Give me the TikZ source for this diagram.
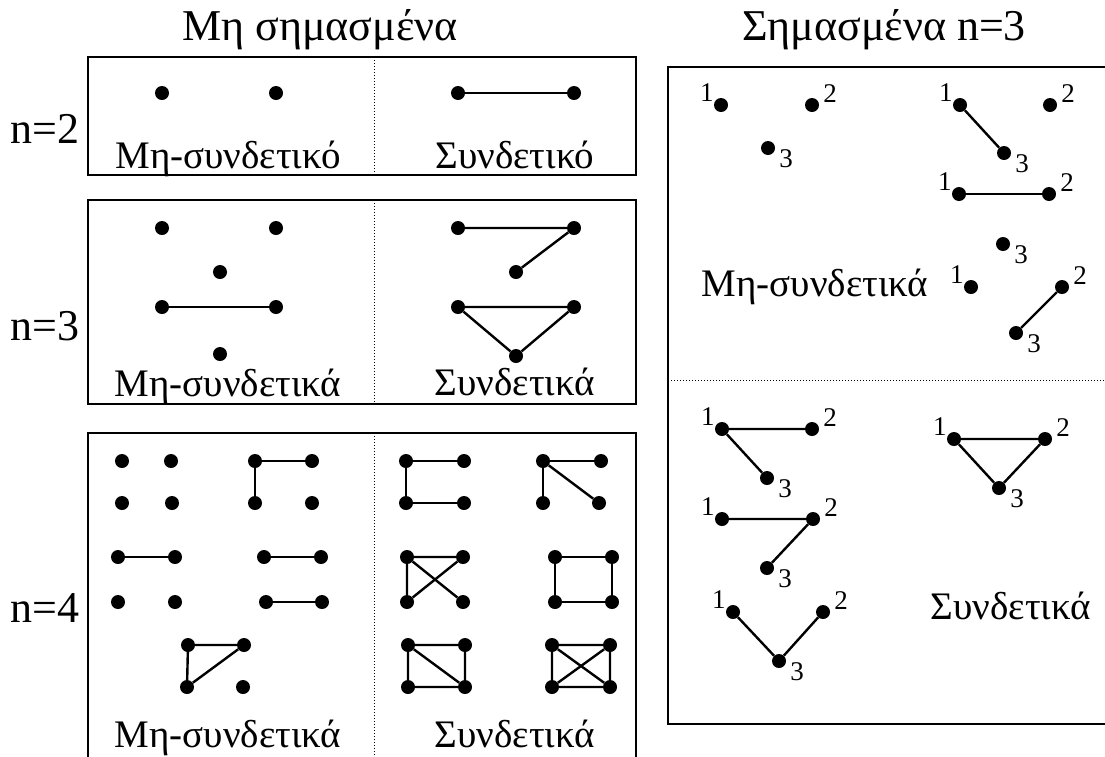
\documentclass[tikz,border=0pt]{standalone}
\usepackage{fontspec}
\setmainfont{Liberation Serif}
\tikzset{
  dot/.style={circle,fill=black,inner sep=0pt,minimum size=14pt},
  edge/.style={line width=2.4pt},
  frame/.style={line width=2pt},
  sepline/.style={line width=1pt,dotted},
  ttl/.style={font=\fontsize{44}{50}\selectfont,anchor=base,inner sep=0pt},
  lbl/.style={font=\fontsize{39}{44}\selectfont,anchor=base,inner sep=0pt},
  num/.style={font=\fontsize{27}{30}\selectfont},
  lab1/.style={label={[num,anchor=south east,inner xsep=0pt,inner ysep=3pt]180:1}},
  lab2/.style={label={[num,anchor=south west,inner xsep=4pt,inner ysep=2pt]0:2}},
  lab3/.style={label={[num,anchor=north west,inner xsep=4pt,inner ysep=1pt]0:3}}
}
\begin{document}
\begin{tikzpicture}[x=1pt,y=-1pt]
\clip (0,0) rectangle (1105,756);
\fill[white] (0,0) rectangle (1105,756);
% titles
\node[ttl] (t1) at (320,40) {Μη σημασμένα};
\node[ttl] (t2) at (884,40) {Σημασμένα n=3};
% left boxes
\draw[frame] (88,57) rectangle (636,175);
\draw[sepline] (374,57) -- (374,175);
\draw[frame] (88,200) rectangle (636,404);
\draw[sepline] (374,200) -- (374,404);
\draw[frame] (88,433) rectangle (636,790);
\draw[sepline] (374,433) -- (374,790);
\node[ttl] (n2) at (45,143) {n=2};
\node[ttl] (n3) at (45,340) {n=3};
\node[ttl] (n4) at (45,622) {n=4};
% n=2
\node[dot] (a1) at (162,93) {};
\node[dot] (a2) at (276,93) {};
\node[dot] (b1) at (458,93) {};
\node[dot] (b2) at (574,93) {};
\draw[edge] (b1) -- (b2);
\node[lbl] (l1) at (228,168) {Μη-συνδετικό};
\node[lbl] (l2) at (515,168) {Συνδετικό};
% n=3
\node[dot] (c1) at (162,228) {};
\node[dot] (c2) at (276,228) {};
\node[dot] (c3) at (220,272) {};
\node[dot] (c4) at (162,307) {};
\node[dot] (c5) at (276,307) {};
\node[dot] (c6) at (220,354) {};
\draw[edge] (c4) -- (c5);
\node[dot] (d1) at (458,228) {};
\node[dot] (d2) at (574,228) {};
\node[dot] (d3) at (516,272) {};
\draw[edge] (d1) -- (d2) -- (d3);
\node[dot] (d4) at (458,307) {};
\node[dot] (d5) at (574,307) {};
\node[dot] (d6) at (516,356) {};
\draw[edge] (d4) -- (d5) -- (d6) -- (d4);
\node[lbl] (l3) at (228,396) {Μη-συνδετικά};
\node[lbl] (l4) at (515,395) {Συνδετικά};
% n=4 non-connected
\node[dot] (e1) at (122,461) {};
\node[dot] (e2) at (171,461) {};
\node[dot] (e3) at (122,503) {};
\node[dot] (e4) at (172,503) {};
\node[dot] (f1) at (255,461) {};
\node[dot] (f2) at (312,461) {};
\node[dot] (f3) at (255,503) {};
\node[dot] (f4) at (312,503) {};
\draw[edge] (f2) -- (f1) -- (f3);
\node[dot] (g1) at (118,557) {};
\node[dot] (g2) at (175,557) {};
\node[dot] (g3) at (118,602) {};
\node[dot] (g4) at (175,602) {};
\draw[edge] (g1) -- (g2);
\node[dot] (h1) at (264,557) {};
\node[dot] (h2) at (321,557) {};
\node[dot] (h3) at (266,602) {};
\node[dot] (h4) at (322,602) {};
\draw[edge] (h1) -- (h2);
\draw[edge] (h3) -- (h4);
\node[dot] (i1) at (188,645) {};
\node[dot] (i2) at (244,645) {};
\node[dot] (i3) at (187,687) {};
\node[dot] (i4) at (243,687) {};
\draw[edge] (i2) -- (i1) -- (i3) -- (i2);
\node[lbl] (l5) at (228,747) {Μη-συνδετικά};
% n=4 connected
\node[dot] (j1) at (406,461) {};
\node[dot] (j2) at (464,461) {};
\node[dot] (j3) at (406,503) {};
\node[dot] (j4) at (464,503) {};
\draw[edge] (j2) -- (j1) -- (j3) -- (j4);
\node[dot] (k1) at (543,461) {};
\node[dot] (k2) at (601,461) {};
\node[dot] (k3) at (543,503) {};
\node[dot] (k4) at (599,503) {};
\draw[edge] (k2) -- (k1) -- (k3);
\draw[edge] (k1) -- (k4);
\node[dot] (m1) at (407,557) {};
\node[dot] (m2) at (463,557) {};
\node[dot] (m3) at (407,602) {};
\node[dot] (m4) at (463,602) {};
\draw[edge] (m2) -- (m1) -- (m3) -- (m2);
\draw[edge] (m1) -- (m4);
\node[dot] (o1) at (555,557) {};
\node[dot] (o2) at (612,557) {};
\node[dot] (o3) at (555,602) {};
\node[dot] (o4) at (612,602) {};
\draw[edge] (o1) -- (o2) -- (o4) -- (o3) -- (o1);
\node[dot] (p1) at (408,645) {};
\node[dot] (p2) at (465,645) {};
\node[dot] (p3) at (408,687) {};
\node[dot] (p4) at (465,687) {};
\draw[edge] (p1) -- (p2) -- (p4) -- (p3) -- (p1) -- (p4);
\node[dot] (q1) at (552,645) {};
\node[dot] (q2) at (610,645) {};
\node[dot] (q3) at (552,687) {};
\node[dot] (q4) at (610,687) {};
\draw[edge] (q1) -- (q2) -- (q4) -- (q3) -- (q1) -- (q4);
\draw[edge] (q2) -- (q3);
\node[lbl] (l6) at (515,747) {Συνδετικά};
% right panel
\draw[frame] (668,67) rectangle (1130,724);
\draw[sepline] (668,380) -- (1105,380);
% G1
\node[dot,lab1] (r1) at (721,105) {};
\node[dot,lab2] (r2) at (812,105) {};
\node[dot,lab3] (r3) at (768,148) {};
% G2
\node[dot,lab1] (s1) at (960,105) {};
\node[dot,lab2] (s2) at (1050,105) {};
\node[dot,lab3] (s3) at (1004,153) {};
\draw[edge] (s1) -- (s3);
% G3
\node[dot,lab1] (u1) at (959,194) {};
\node[dot,lab2] (u2) at (1049,194) {};
\node[dot,lab3] (u3) at (1003,244) {};
\draw[edge] (u1) -- (u2);
% G4
\node[dot,lab1] (v1) at (971,287) {};
\node[dot,lab2] (v2) at (1062,287) {};
\node[dot,lab3] (v3) at (1016,333) {};
\draw[edge] (v2) -- (v3);
\node[lbl] (l7) at (815,296) {Μη-συνδετικά};
% connected labelled
\node[dot,lab1] (w1) at (722,429) {};
\node[dot,lab2] (w2) at (812,429) {};
\node[dot,lab3] (w3) at (767,478) {};
\draw[edge] (w2) -- (w1) -- (w3);
\node[dot,lab1] (x1) at (722,519) {};
\node[dot,lab2] (x2) at (813,519) {};
\node[dot,lab3] (x3) at (767,568) {};
\draw[edge] (x1) -- (x2) -- (x3);
\node[dot,lab1] (y1) at (733,612) {};
\node[dot,lab2] (y2) at (823,612) {};
\node[dot,lab3] (y3) at (779,661) {};
\draw[edge] (y1) -- (y3) -- (y2);
\node[dot,lab1] (z1) at (954,439) {};
\node[dot,lab2] (z2) at (1045,439) {};
\node[dot,lab3] (z3) at (999,488) {};
\draw[edge] (z1) -- (z2) -- (z3) -- (z1);
\node[lbl] (l8) at (1011,619) {Συνδετικά};
\end{tikzpicture}
\end{document}
